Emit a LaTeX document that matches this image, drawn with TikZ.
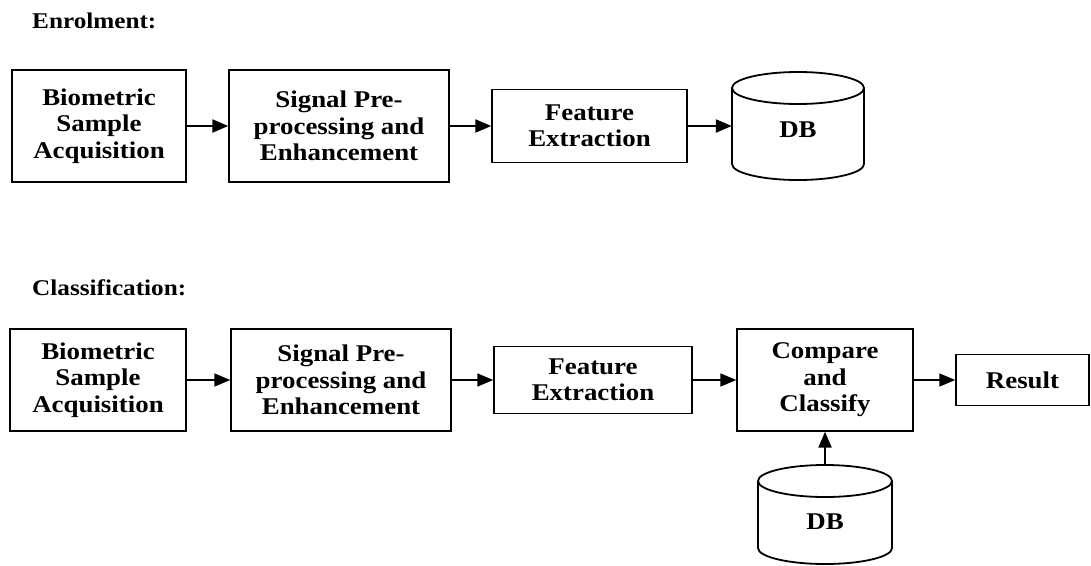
\documentclass[tikz,border=0pt]{standalone}
\usepackage{fontspec}
\setmainfont{Liberation Serif}[FakeStretch=1.12]
\usetikzlibrary{arrows.meta}
\tikzset{
  blk/.style={draw, line width=1.4pt, align=center, font=\fontsize{24}{26.5}\selectfont\bfseries, inner sep=0pt},
  lbl/.style={anchor=base west, inner sep=0pt, font=\fontsize{22.5}{24}\selectfont\bfseries},
  dbtext/.style={font=\fontsize{24}{26.5}\selectfont\bfseries, inner sep=0pt},
  arr/.style={line width=2.2pt, -{Triangle[length=16pt,width=13pt]}},
  carr/.style={arr, line width=1.7pt},
  cyl/.style={line width=1.8pt},
  ghost/.style={draw=none, inner sep=0pt}
}
\begin{document}
\begin{tikzpicture}[x=1pt,y=-1pt]
\useasboundingbox (0,0) rectangle (1091,565);
% labels
\node[lbl] (lenr) at (32,28) {Enrolment:};
\node[lbl] (lcls) at (32,295) {Classification:};
% enrolment row
\node[blk, minimum width=174pt, minimum height=112pt] (e1) at (99,126) {Biometric\\Sample\\Acquisition};
\node[blk, minimum width=220pt, minimum height=112pt] (e2) at (339,126) {Signal Pre-\\processing and\\Enhancement};
\node[blk, minimum width=195pt, minimum height=73pt] (e3) at (589.5,126) {Feature\\Extraction};
\node[ghost, minimum width=132pt, minimum height=108pt] (edb) at (798,126) {};
\draw[cyl] (798,88) ellipse [x radius=66pt, y radius=16pt];
\draw[cyl] (732,88) -- (732,164) arc[start angle=180, end angle=360, x radius=66pt, y radius=16pt] -- (864,88);
\node[dbtext] (edbt) at (798,130) {DB};
\draw[arr] (e1.east) -- (e2.west);
\draw[arr] (e2.east) -- (e3.west);
\draw[arr] (e3.east) -- (edb.west);
% classification row
\node[blk, minimum width=176pt, minimum height=102pt] (c1) at (98,380) {Biometric\\Sample\\Acquisition};
\node[blk, minimum width=220pt, minimum height=102pt] (c2) at (341,380) {Signal Pre-\\processing and\\Enhancement};
\node[blk, minimum width=198pt, minimum height=67pt] (c3) at (593,380) {Feature\\Extraction};
\node[blk, minimum width=176pt, minimum height=102pt] (c4) at (825,380) {Compare\\and\\Classify};
\node[blk, minimum width=133pt, minimum height=51pt] (c5) at (1022.5,380) {Result};
\node[ghost, minimum width=134pt, minimum height=99pt] (cdb) at (825,514.5) {};
\draw[cyl] (825,481) ellipse [x radius=67pt, y radius=16pt];
\draw[cyl] (758,481) -- (758,548) arc[start angle=180, end angle=360, x radius=67pt, y radius=16pt] -- (892,481);
\node[dbtext] (cdbt) at (825,522) {DB};
\draw[carr] (c1.east) -- (c2.west);
\draw[carr] (c2.east) -- (c3.west);
\draw[carr] (c3.east) -- (c4.west);
\draw[carr] (c4.east) -- (c5.west);
\draw[arr] (cdb.north) -- (c4.south);
\end{tikzpicture}
\end{document}
